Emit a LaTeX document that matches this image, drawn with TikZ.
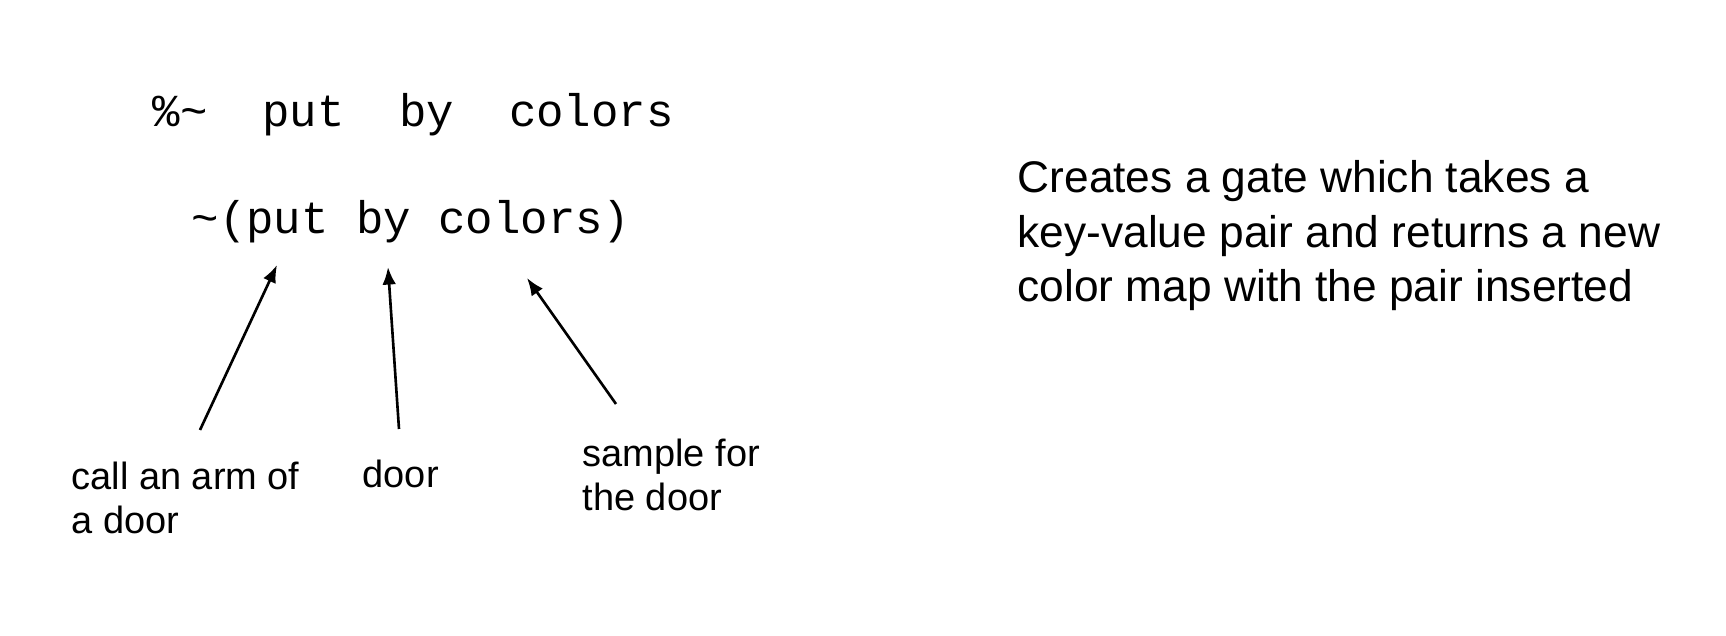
\documentclass[tikz,border=0pt]{standalone}
\usepackage{fontspec}
\setmainfont{Liberation Sans}
\setmonofont{Liberation Mono}
\usetikzlibrary{arrows.meta,positioning}

\tikzset{
  code/.style={inner sep=0pt,anchor=base west,font=\ttfamily\fontsize{13pt}{15pt}\selectfont},
  note/.style={inner sep=0pt,anchor=base west,align=left,font=\fontsize{12.6pt}{15.6pt}\selectfont},
  label/.style={inner sep=0pt,anchor=base west,align=left,font=\fontsize{10.8pt}{12.8pt}\selectfont},
  pointer/.style={line width=0.75pt,-{Latex[length=5pt,width=3.9pt]}}
}

\begin{document}
\begin{tikzpicture}
\useasboundingbox (0,0) rectangle (17.26,-6.36);
% the two lines of code
\draw (1.52,-1.27) node[code] (rune) {\%\textasciitilde\ \ put\ \ by\ \ colors};
\draw (1.91,-2.34) node[code] (gate) {\textasciitilde(put by colors)};
% what it does (base is the last line)
\draw (10.17,-3.02) node[note] (what) {Creates a gate which takes a\\key-value pair and returns a new\\color map with the pair inserted};
% the parts
\draw (0.71,-5.34) node[label] (arm) {call an arm of\\a door};
\draw (3.62,-4.88) node[label] (door) {door};
\draw (5.82,-5.11) node[label] (sample) {sample for\\the door};
\coordinate (armfoot) at (2.00,-4.30);
\coordinate (armtip) at (2.77,-2.65);
\coordinate (doorfoot) at (3.99,-4.29);
\coordinate (doortip) at (3.88,-2.67);
\coordinate (samplefoot) at (6.16,-4.04);
\coordinate (sampletip) at (5.27,-2.78);
\draw[pointer] (armfoot) -- (armtip);
\draw[pointer] (doorfoot) -- (doortip);
\draw[pointer] (samplefoot) -- (sampletip);
\end{tikzpicture}
\end{document}
